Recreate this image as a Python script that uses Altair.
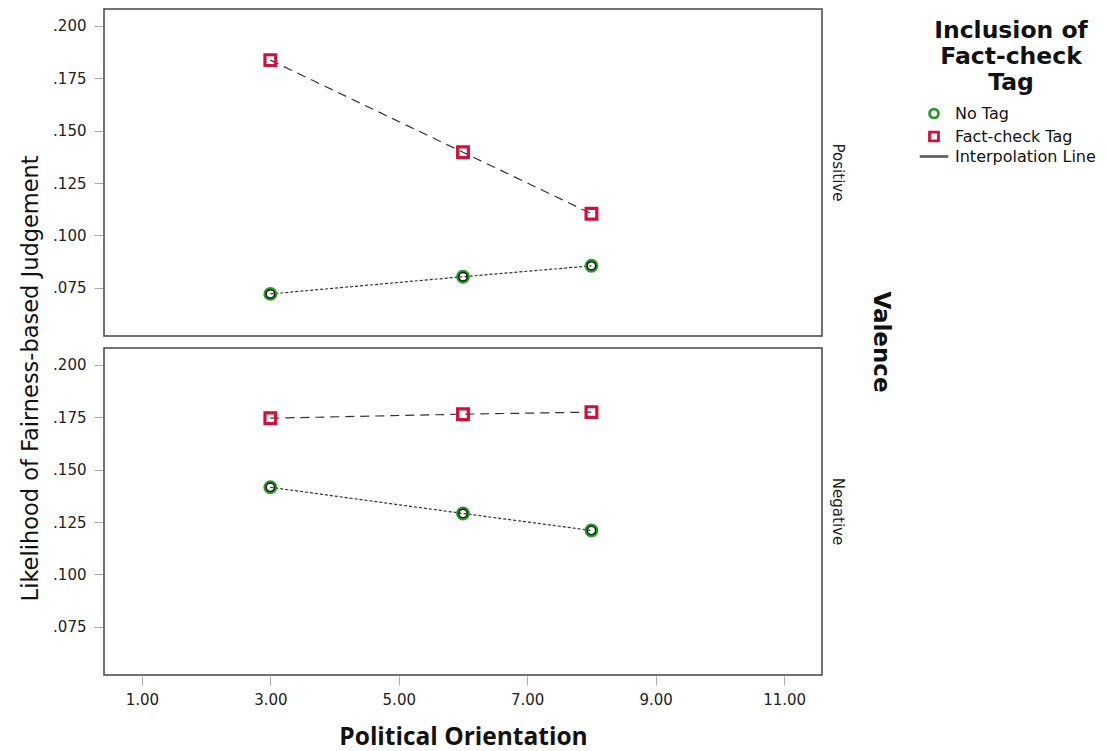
import altair as alt
import pandas as pd

orientation = [3, 6, 8]
valences = ["Positive", "Negative"]
tags = ["No Tag", "Fact-check Tag"]
legend_items = ["No Tag", "Fact-check Tag", "Interpolation Line"]

pos_no_tag = [0.0721, 0.0803, 0.0855]
pos_fact = [0.1837, 0.1397, 0.1104]
neg_no_tag = [0.1416, 0.1291, 0.1210]
neg_fact = [0.1746, 0.1765, 0.1775]

x_ticks = [1, 3, 5, 7, 9, 11]
y_ticks = [0.075, 0.100, 0.125, 0.150, 0.175, 0.200]

rows = []
for val, series in [("Positive", {"No Tag": pos_no_tag, "Fact-check Tag": pos_fact}),
                    ("Negative", {"No Tag": neg_no_tag, "Fact-check Tag": neg_fact})]:
    for tag, vals in series.items():
        for o, v in zip(orientation, vals):
            rows.append({"valence": val, "tag": tag, "orientation": o, "value": v})
df = pd.DataFrame(rows)

GREEN = "#2a9a2a"
RED = "#d2103c"
LINE = "#333333"
LEGEND_LINE = "#666666"
FONT = "DejaVu Sans"
CFONT = "Open Sans"
LINE_SYMBOL = "M-3.2,0H3.2"

x_enc = alt.X("orientation:Q",
              scale=alt.Scale(domain=[0.41, 11.59], nice=False, zero=False),
              axis=alt.Axis(values=x_ticks, format=".2f", title="Political Orientation",
                            grid=False, domain=False, tickColor="#aaaaaa", tickSize=9,
                            labelFont=FONT, labelFontSize=15, labelColor="#222222", labelPadding=7,
                            titleFont=CFONT, titleFontSize=24.5, titleFontWeight="bold",
                            titleColor="#111111", titlePadding=18))
y_enc = alt.Y("value:Q",
              scale=alt.Scale(domain=[0.052, 0.2081], nice=False, zero=False),
              axis=alt.Axis(values=y_ticks, labelExpr="substring(format(datum.value, '.3f'), 1)",
                            title=None,
                            grid=False, domain=False, tickColor="#aaaaaa", tickSize=9,
                            labelFont=FONT, labelFontSize=15, labelColor="#222222", labelPadding=8))

legend = alt.Legend(title=["Inclusion of", "Fact-check", "Tag"],
                    titleFont=FONT, titleFontSize=23.5, titleFontWeight="bold", titleColor="#111111",
                    titleAlign="center", titleAnchor="middle", titleLineHeight=26, titlePadding=11,
                    labelFont=FONT, labelFontSize=16, labelColor="#111111",
                    orient="none", legendX=822, legendY=10,
                    rowPadding=1, labelOffset=13, symbolSize=80, symbolStrokeWidth=2.8)

base = alt.Chart(df)
lines = base.mark_line(color=LINE, strokeWidth=1.2).encode(
    x=x_enc, y=y_enc, detail="tag:N",
    strokeDash=alt.StrokeDash("tag:N", scale=alt.Scale(domain=tags, range=[[3, 2], [9, 6]]), legend=None),
)
points = base.mark_point(filled=False, opacity=1, size=115, strokeWidth=3.2).encode(
    x=x_enc, y=y_enc,
    color=alt.Color("tag:N", scale=alt.Scale(domain=legend_items, range=[GREEN, RED, LEGEND_LINE]),
                    legend=legend),
    shape=alt.Shape("tag:N", scale=alt.Scale(domain=legend_items, range=["circle", "square", LINE_SYMBOL]),
                    legend=legend),
)
inner = base.transform_filter(alt.datum.tag == "No Tag").mark_point(
    filled=False, strokeWidth=1.5, color="#102010", size=70, opacity=1).encode(x=x_enc, y=y_enc)

chart = alt.layer(lines, points, inner).properties(width=718, height=327).facet(
    row=alt.Row("valence:N", sort=valences,
                header=alt.Header(title="Valence", titleOrient="right", labelOrient="right",
                                  labelAngle=90, titleAngle=90, labelFont=FONT, labelFontSize=15,
                                  labelColor="#222222", titleFont=FONT, titleFontSize=23,
                                  titleFontWeight="bold", titleColor="#111111", labelPadding=7,
                                  titlePadding=14)),
    spacing=10,
).properties(
    title=alt.TitleParams("Likelihood of Fairness-based Judgement", orient="left", anchor="middle",
                          font=FONT, fontSize=22.5, fontWeight="normal", color="#111111", offset=10),
    padding={"left": 12, "top": 0, "right": 0, "bottom": 5},
).configure_view(stroke="#444444", strokeWidth=1.5)

chart.save("out.html", embed_options={"renderer": "svg", "actions": False})
